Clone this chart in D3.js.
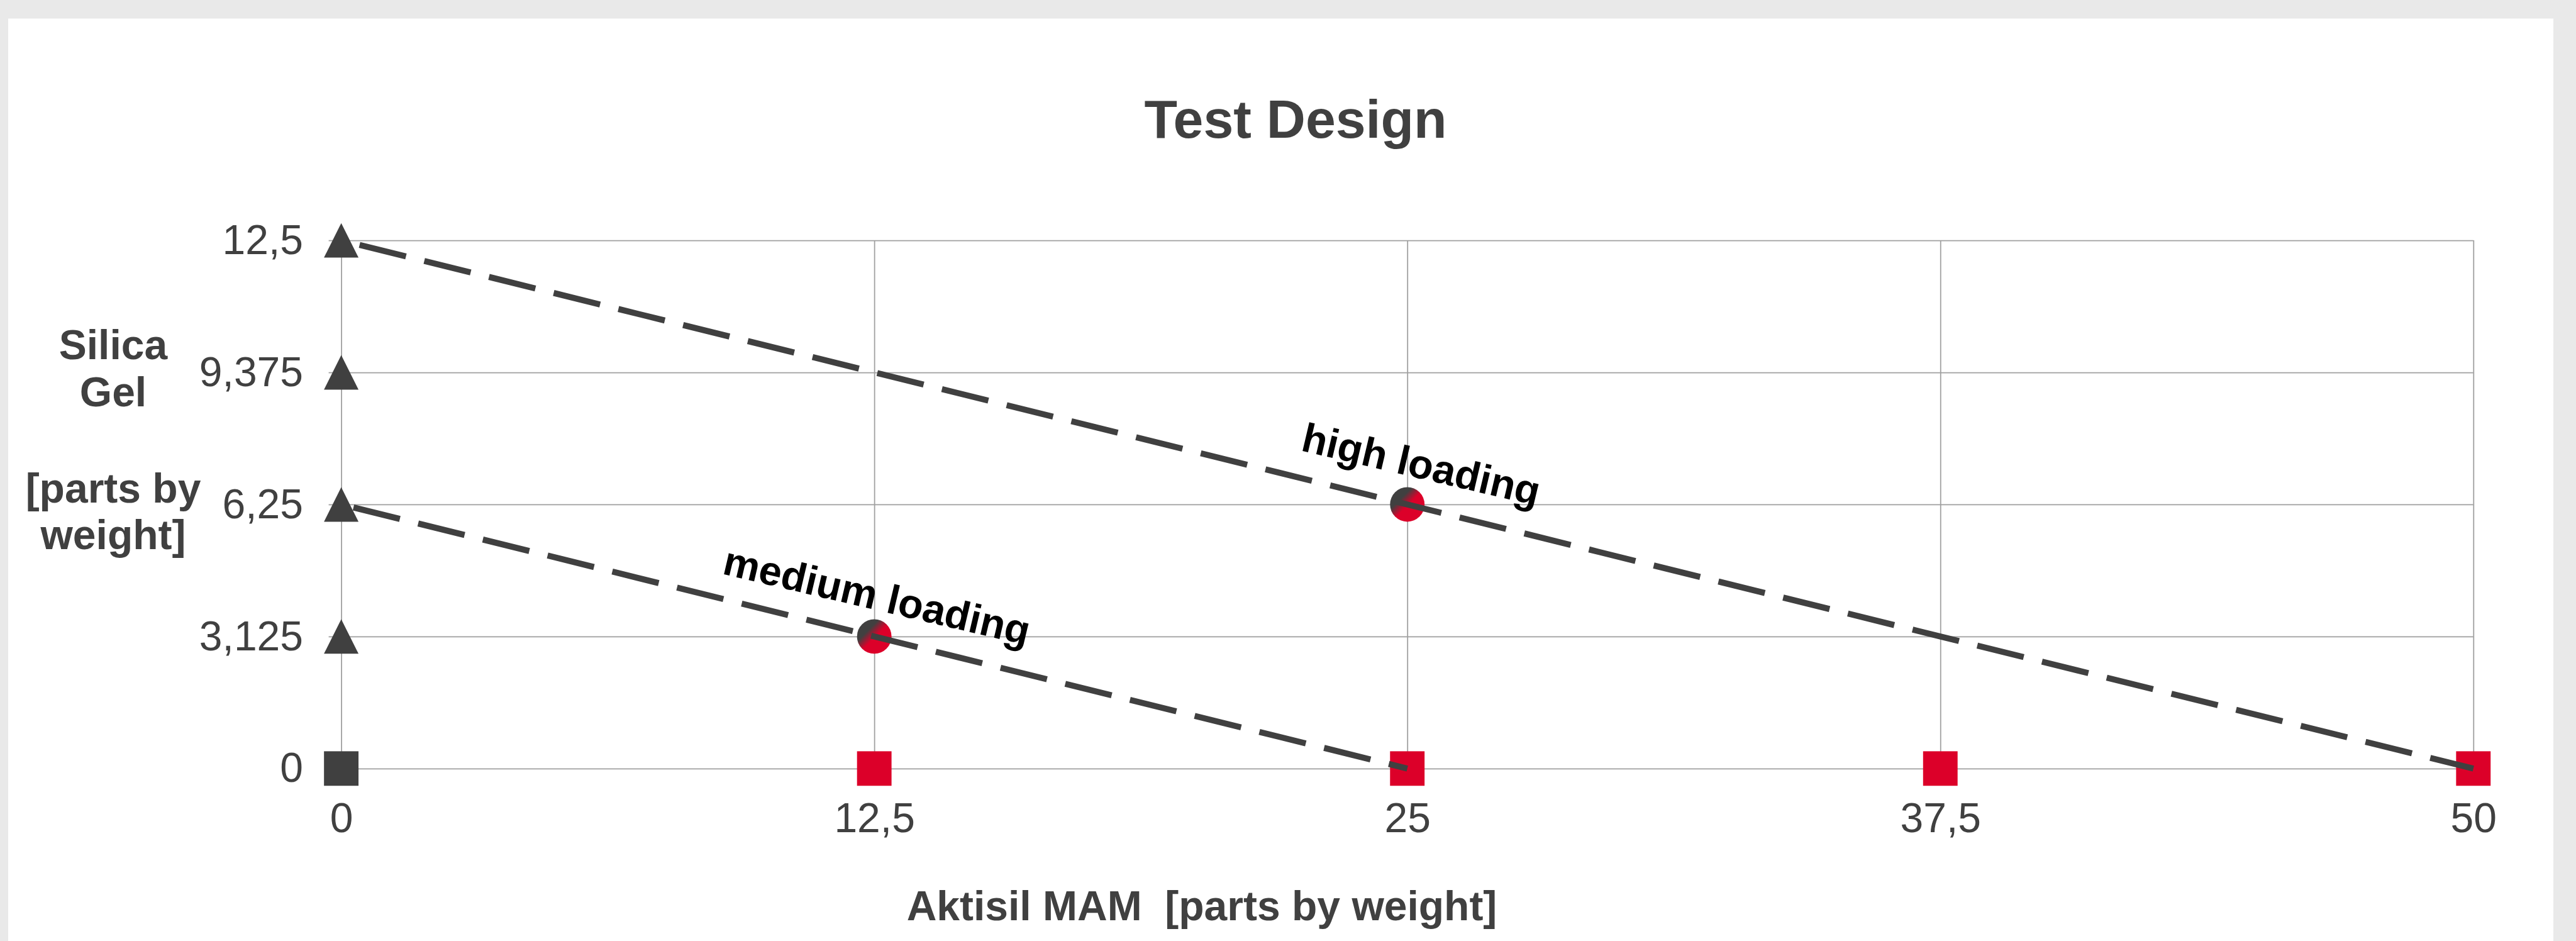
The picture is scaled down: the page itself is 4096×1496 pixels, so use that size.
<!DOCTYPE html>
<html>
<head>
<meta charset="utf-8">
<script src="https://cdn.jsdelivr.net/npm/d3@7"></script>
<style>
  html, body { margin: 0; padding: 0; background: #e9e9e9; }
  svg { display: block; font-family: "Liberation Sans", Arial, sans-serif; }
</style>
</head>
<body>
<div id="chart"></div>
<script>
// Axis ticks
const xTicks = [0, 12.5, 25, 37.5, 50]
const yTicks = [0, 3.125, 6.25, 9.375, 12.5]

// Markers on the x axis (Aktisil MAM only)
const squareX = [0, 12.5, 25, 37.5, 50]
const squareKind = ['dark', 'red', 'red', 'red', 'red']

// Markers on the y axis (silica gel only)
const triangleY = [3.125, 6.25, 9.375, 12.5]

// Mixed points
const circleX = [12.5, 25]
const circleY = [3.125, 6.25]

// Loading lines
const lineNames = ['high loading', 'medium loading']
const lineStart = [[0, 12.5], [0, 6.25]]
const lineEnd = [[50, 0], [25, 0]]
const labelAt = [[22.48, 7.53], [8.91, 4.61]]

const W = 4096
const H = 1496
const k = 0.686
const dark = '#404040'
const red = '#dc0029'
const margin = { left: 542.6, top: 382.1, right: W - 3932.8, bottom: H - 1221.8 }
const plotW = W - margin.left - margin.right
const plotH = H - margin.top - margin.bottom

const locale = d3.formatLocale({ decimal: ',', thousands: '.', grouping: [3], currency: ['', ''] })
const fmt = locale.format('~g')

const svg = d3.select('#chart')
  .append('svg')
  .attr('width', W)
  .attr('height', H)

// white panel
svg.append('rect')
  .attr('x', 13)
  .attr('y', 29.5)
  .attr('width', 4060 - 13)
  .attr('height', H)
  .attr('fill', '#fff')

const defs = svg.append('defs')
const grad = defs.append('linearGradient')
  .attr('id', 'mix')
  .attr('x1', 0).attr('y1', 0).attr('x2', 1).attr('y2', 1)
grad.append('stop').attr('offset', 0.32).attr('stop-color', dark)
grad.append('stop').attr('offset', 0.52).attr('stop-color', red)

svg.append('text')
  .attr('x', 2060)
  .attr('y', 218.8)
  .attr('text-anchor', 'middle')
  .attr('font-size', 86)
  .attr('font-weight', 'bold')
  .attr('fill', dark)
  .text('Test Design')

const g = svg.append('g')
  .attr('transform', `translate(${margin.left}, ${margin.top})`)

const x = d3.scaleLinear().domain([0, 50]).range([0, plotW])
const y = d3.scaleLinear().domain([0, 12.5]).range([plotH, 0])

// gridlines + tick labels
const yAxis = g.append('g')
  .call(d3.axisLeft(y).tickValues(yTicks).tickFormat(fmt)
    .tickSizeInner(-plotW).tickSizeOuter(0).tickPadding(60.6))
const xAxis = g.append('g')
  .attr('transform', `translate(0, ${plotH})`)
  .call(d3.axisBottom(x).tickValues(xTicks).tickFormat(fmt)
    .tickSizeInner(-plotH).tickSizeOuter(0).tickPadding(54))

for (const ax of [xAxis, yAxis]) {
  ax.select('.domain').remove()
  ax.selectAll('.tick line').attr('stroke', '#a0a0a0').attr('stroke-width', 1.8)
  ax.selectAll('.tick text')
    .attr('font-size', 66)
    .attr('font-family', '"Liberation Sans", Arial, sans-serif')
    .attr('fill', dark)
}
// short outer ticks to the left of the y axis
yAxis.selectAll('.tick').append('line')
  .attr('x1', -20).attr('x2', 0)
  .attr('stroke', '#a0a0a0').attr('stroke-width', 1.8)

// markers
const ms = 80 * k
g.selectAll('rect.sq')
  .data(squareX)
  .join('rect')
  .attr('class', 'sq')
  .attr('x', d => x(d) - ms / 2)
  .attr('y', y(0) - ms / 2)
  .attr('width', ms)
  .attr('height', ms)
  .attr('fill', (d, i) => squareKind[i] === 'red' ? red : dark)

g.selectAll('path.tri')
  .data(triangleY)
  .join('path')
  .attr('class', 'tri')
  .attr('d', d => {
    const cx = x(0)
    const cy = y(d)
    return `M${cx},${cy - ms / 2}L${cx + ms / 2},${cy + ms / 2}L${cx - ms / 2},${cy + ms / 2}Z`
  })
  .attr('fill', dark)

g.selectAll('circle.mix')
  .data(circleX)
  .join('circle')
  .attr('class', 'mix')
  .attr('cx', d => x(d))
  .attr('cy', (d, i) => y(circleY[i]))
  .attr('r', ms / 2)
  .attr('fill', 'url(#mix)')

// dashed loading lines
const line = d3.line().x(d => x(d[0])).y(d => y(d[1]))
const dashOffsets = [76, 86]
lineNames.forEach((name, i) => {
  g.append('path')
    .attr('d', line([lineStart[i], lineEnd[i]]))
    .attr('fill', 'none')
    .attr('stroke', dark)
    .attr('stroke-width', 9.6)
    .attr('stroke-dasharray', '76,30')
    .attr('stroke-dashoffset', dashOffsets[i])

  g.append('text')
    .attr('transform', `translate(${x(labelAt[i][0])}, ${y(labelAt[i][1])}) rotate(13.2)`)
    .attr('font-size', 65)
    .attr('font-weight', 'bold')
    .attr('fill', '#000')
    .text(name)
})

// axis titles
const yTitle = svg.append('text')
  .attr('text-anchor', 'middle')
  .attr('font-size', 66)
  .attr('font-weight', 'bold')
  .attr('fill', dark)
const yTitleLines = ['Silica', 'Gel', '[parts by', 'weight]']
const yTitleBase = [570.8, 645.5, 798.5, 873.3]
yTitleLines.forEach((t, i) => {
  yTitle.append('tspan').attr('x', 180).attr('y', yTitleBase[i]).text(t)
})

svg.append('text')
  .attr('x', 1911)
  .attr('y', 1462.6)
  .attr('text-anchor', 'middle')
  .attr('font-size', 66)
  .attr('font-weight', 'bold')
  .attr('fill', dark)
  .style('white-space', 'pre')
  .text('Aktisil MAM  [parts by weight]')
</script>
</body>
</html>
